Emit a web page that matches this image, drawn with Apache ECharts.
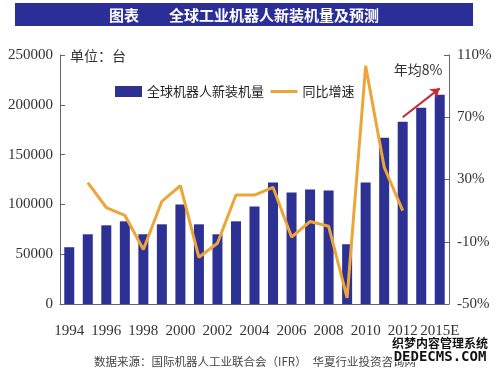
<!DOCTYPE html>
<html>
<head>
<meta charset="utf-8">
<script src="https://cdn.jsdelivr.net/npm/echarts@6/dist/echarts.min.js"></script>
<style>
html,body{margin:0;padding:0;background:#fff;}
#c{width:500px;height:370px;}
</style>
</head>
<body>
<div id="c"></div>
<script>
var years = ['1994','1995','1996','1997','1998','1999','2000','2001','2002','2003','2004','2005','2006','2007','2008','2009','2010','2011','2012','2013','2015E'];
var installs = [57000,70000,79000,83000,70000,80000,100000,80000,70000,83000,98000,122000,112000,115000,114000,60000,122000,167000,183000,197000,210000];
var growth = [null,28,12,7,-15,16,26,-20,-11,20,20,25,-7,3,0,-46,103,38,10,null,null];
var leftTicks = [0, 250000, 50000];
var rightTicks = [-50, 110, 40];
var arrowFrom = ['2012', 187500];
var arrowTo = ['2015E', 216500];

var serif = "'Liberation Serif','DejaVu Serif',serif";
var cjk = "'Noto Sans CJK SC','Noto Sans',sans-serif";

var chart = echarts.init(document.getElementById('c'), null, {renderer:'canvas'});
chart.setOption({
  backgroundColor:'#ffffff',
  animation:false,
  grid:{left:60, right:51, top:55, bottom:66},
  legend:{
    left:110, top:80, itemWidth:27, itemHeight:11, itemGap:5,
    textStyle:{fontFamily:cjk, fontSize:13, color:'#222'},
    data:[
      {name:'全球机器人新装机量', icon:'rect'},
      {name:'同比增速', itemStyle:{opacity:0}, lineStyle:{color:'#eda53a', width:3}}
    ]
  },
  xAxis:{
    type:'category', data:years, boundaryGap:true,
    axisLine:{lineStyle:{color:'#666', width:1}},
    axisTick:{inside:true, length:4, interval:0, lineStyle:{color:'#666'}},
    axisLabel:{interval:1, margin:20, fontFamily:serif, fontSize:15, color:'#333'}
  },
  yAxis:[{
    type:'value', min:leftTicks[0], max:leftTicks[1], interval:leftTicks[2],
    axisLine:{show:true, lineStyle:{color:'#666'}},
    axisTick:{show:true, inside:true, length:5, lineStyle:{color:'#666'}},
    splitLine:{show:false},
    axisLabel:{margin:7, fontFamily:serif, fontSize:15, color:'#333', formatter:function(v){return String(v);}}
  },{
    type:'value', min:rightTicks[0], max:rightTicks[1], interval:rightTicks[2],
    position:'right',
    axisLine:{show:true, lineStyle:{color:'#666'}},
    axisTick:{show:true, inside:true, length:5, lineStyle:{color:'#666'}},
    splitLine:{show:false},
    axisLabel:{margin:8, fontFamily:serif, fontSize:15, color:'#333', formatter:function(v){return v + '%';}}
  }],
  series:[{
    name:'全球机器人新装机量', type:'bar', data:installs, barWidth:10,
    itemStyle:{color:'#2d3193'},
    markLine:{
      silent:true, symbol:['none','arrow'], symbolSize:9,
      label:{show:false},
      lineStyle:{color:'#c42a2e', width:2, type:'solid'},
      data:[[{coord:arrowFrom},{coord:arrowTo}]]
    }
  },{
    name:'同比增速', type:'line', yAxisIndex:1, data:growth,
    symbol:'none', connectNulls:false,
    lineStyle:{color:'#eda53a', width:3},
    itemStyle:{color:'#eda53a'}
  }],
  graphic:[
    {type:'rect', left:15, top:3, shape:{width:458, height:23}, style:{fill:'#2c2e97'}},
    {type:'text', x:244, y:15, style:{text:'图表　　全球工业机器人新装机量及预测', fill:'#fff', font:"bold 15px 'Noto Sans CJK SC'", textAlign:'center', textVerticalAlign:'middle'}},
    {type:'text', x:70, y:56, style:{text:'单位：台', fill:'#333', font:"14px 'Noto Sans CJK SC'", textAlign:'left', textVerticalAlign:'middle'}},
    {type:'text', x:418, y:70, style:{text:'年均8%', fill:'#333', font:"14px 'Noto Sans CJK SC'", textAlign:'center', textVerticalAlign:'middle'}},
    {type:'text', x:255, y:362, style:{text:'数据来源：国际机器人工业联合会（IFR）　华夏行业投资咨询网', fill:'#444', font:"11.5px 'Noto Sans CJK SC'", textAlign:'center', textVerticalAlign:'middle'}},
    {type:'text', x:440, y:343, style:{text:'织梦内容管理系统', fill:'#111', stroke:'#fff', lineWidth:2, font:"bold 12px 'Noto Sans CJK SC'", textAlign:'center', textVerticalAlign:'middle'}},
    {type:'text', x:440, y:357, style:{text:'DEDECMS.COM', fill:'#111', stroke:'#fff', lineWidth:2, font:"bold 14px 'DejaVu Sans Mono'", textAlign:'center', textVerticalAlign:'middle'}}
  ]
});
</script>
</body>
</html>
